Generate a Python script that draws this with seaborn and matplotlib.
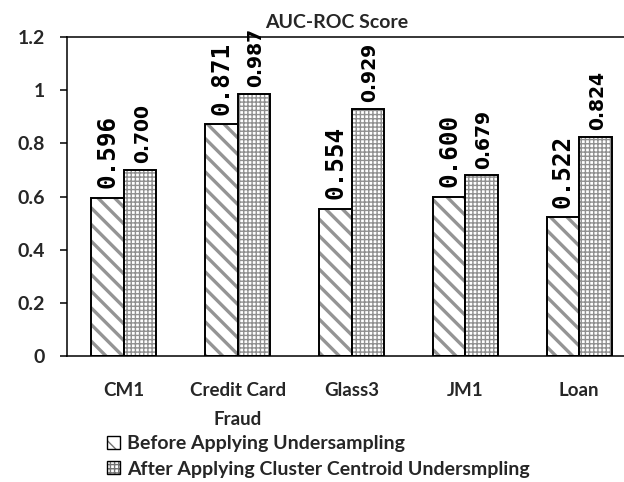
import matplotlib
matplotlib.use("Agg")
import matplotlib.pyplot as plt
import numpy as np
import pandas as pd
import seaborn as sns
from matplotlib.patches import Patch

categories = ["CM1", "Credit Card\nFraud", "Glass3", "JM1", "Loan"]
series_names = ["Before Applying Undersampling",
                "After Applying Cluster Centroid Undersmpling"]
before = [0.596, 0.871, 0.554, 0.600, 0.522]
after = [0.700, 0.987, 0.929, 0.679, 0.824]
y_ticks = [0, 0.2, 0.4, 0.6, 0.8, 1.0, 1.2]
y_tick_labels = ["0", "0.2", "0.4", "0.6", "0.8", "1", "1.2"]
title = "AUC-ROC Score"

df = pd.DataFrame({
    "category": categories * 2,
    "series": [series_names[0]] * len(categories) + [series_names[1]] * len(categories),
    "value": before + after,
})

sns.set_theme(style="white")
plt.rcParams["font.family"] = ["Lato", "DejaVu Sans"]

W, H = 624, 482
fig = plt.figure(figsize=(W / 100, H / 100), dpi=100)
ax = fig.add_axes([67 / W, 1 - 356 / H, (636 - 67) / W, (356 - 37) / H])

sns.barplot(data=df, x="category", y="value", hue="series", order=categories,
            hue_order=series_names, width=0.572, gap=0, ax=ax, legend=False,
            errorbar=None)

hatches = ["\\\\", "++++"]
hatch_cols = [(0.58, 0.58, 0.58, 1.0), (0.56, 0.56, 0.56, 1.0)]
hatch_lw = [2.4, 1.0]
n = len(categories)
for i, p in enumerate(ax.patches[: 2 * n]):
    s = i // n
    p.set_facecolor("white")
    p.set_edgecolor("black")
    p.set_linewidth(1.4)
    p.set_hatch(hatches[s])
    p._hatch_color = hatch_cols[s]
    if hasattr(p, "set_hatch_linewidth"):
        p.set_hatch_linewidth(hatch_lw[s])

# value labels
vals = before + after
for i, p in enumerate(ax.patches[: 2 * n]):
    s = i // n
    val = vals[i]
    xc = p.get_x() + p.get_width() / 2
    if s == 0:
        ax.annotate(f"{val:.3f}", (xc, p.get_height()), xytext=(0, 7),
                    textcoords="offset points", rotation=90, ha="center", va="bottom",
                    fontsize=17.5, fontweight="bold", family="DejaVu Sans Mono",
                    color="black", annotation_clip=False)
    else:
        ax.annotate(f"{val:.3f}", (xc, p.get_height()), xytext=(1.5, 5),
                    textcoords="offset points", rotation=90, ha="center", va="bottom",
                    fontsize=13.5, fontweight="bold", family="DejaVu Sans",
                    color="black", annotation_clip=False)

ax.set_ylim(0, 1.2)
ax.set_xlim(-0.5, 4.5)
ax.set_yticks(y_ticks)
ax.set_yticklabels(y_tick_labels, fontsize=14, fontweight="bold")
ax.set_xticks(range(n))
ax.set_xticklabels(categories, fontsize=13.5, fontweight="bold", linespacing=1.85)
ax.set_xlabel("")
ax.set_ylabel("")
ax.tick_params(axis="x", length=0, pad=19)
ax.set_xticks(np.arange(-0.5, n, 1), minor=True)
ax.tick_params(axis="x", which="minor", length=6, width=1.1, color="black", direction="out")
ax.tick_params(axis="y", length=5, width=1.1, color="black", direction="out", pad=11,
               left=True)
for side in ["left", "bottom", "top"]:
    ax.spines[side].set_visible(True)
    ax.spines[side].set_color("black")
    ax.spines[side].set_linewidth(1.1)
ax.spines["right"].set_visible(False)
ax.grid(False)

fig.text(337 / W, 1 - 23 / H, title, ha="center", va="center", fontsize=14,
         fontweight="bold")

handles = []
for s in range(2):
    h = Patch(facecolor="white", edgecolor="black", hatch=hatches[s], linewidth=1.0)
    handles.append(h)
leg = fig.legend(handles, series_names, loc="upper left",
                 bbox_to_anchor=(107 / W, 1 - 435 / H), frameon=False,
                 prop={"weight": "bold", "size": 14}, handlelength=0.65,
                 handleheight=0.65, handletextpad=0.4, labelspacing=0.45,
                 borderpad=0, borderaxespad=0)
for h in leg.legend_handles:
    h._hatch_color = (0.45, 0.45, 0.45, 1.0)

fig.savefig("out.png", dpi=100)
